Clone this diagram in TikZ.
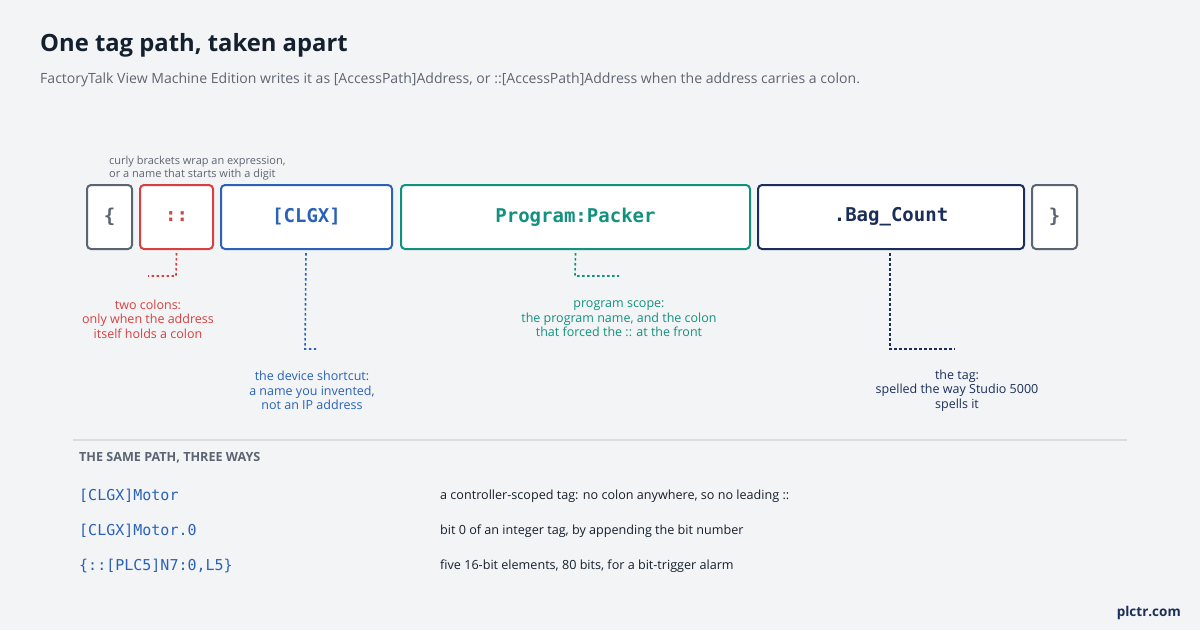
\documentclass[tikz,border=0pt]{standalone}
\usepackage{fontspec}
\setmainfont{Open Sans}
\newfontfamily\monofont{DejaVu Sans Mono}
\definecolor{bg}{HTML}{F3F4F6}
\definecolor{ink}{HTML}{14202E}
\definecolor{sub}{HTML}{5D6673}
\definecolor{gr}{HTML}{5A6472}
\definecolor{rd}{HTML}{D64040}
\definecolor{bl}{HTML}{2A62B8}
\definecolor{tl}{HTML}{13917E}
\definecolor{nv}{HTML}{1B2E5A}
\definecolor{sep}{HTML}{D8DDE3}
\tikzset{
  seg/.style={draw=#1, text=#1, fill=white, line width=2pt, rounded corners=4pt, inner sep=0pt, anchor=north west,
     font=\monofont\bfseries\fontsize{19}{22}\selectfont},
  lead/.style={draw=#1, line width=1.6pt, dash pattern=on 2.5pt off 2.5pt},
  note/.style={text=#1, align=center, font=\fontsize{12.5}{14.5}\selectfont},
  code/.style={text=bl, anchor=west, inner sep=0pt, font=\monofont\fontsize{15}{17}\selectfont},
  desc/.style={text=ink, anchor=west, inner sep=0pt, font=\fontsize{12.6}{14}\selectfont},
}
\begin{document}
\begin{tikzpicture}[x=1pt,y=-1pt]
\path[fill=bg] (0,0) rectangle (1200,630);
\useasboundingbox (0,0) rectangle (1200,630);
\node[anchor=west, inner sep=0pt, text=ink, font=\bfseries\fontsize{23.8}{28}\selectfont] (title) at (40,45) {One tag path, taken apart};
\node[anchor=west, inner sep=0pt, text=sub, font=\fontsize{14.05}{16}\selectfont] (subtitle) at (40,80) {FactoryTalk View Machine Edition writes it as [AccessPath]Address, or ::[AccessPath]Address when the address carries a colon.};
\node[anchor=west, inner sep=0pt, text=sub, align=left, font=\fontsize{11}{13}\selectfont] (curly) at (109,168.5) {curly brackets wrap an expression,\\or a name that starts with a digit};
% segments
\node[seg=gr, minimum width=45pt, minimum height=64pt] (lb) at (86,184) {\{};
\node[seg=rd, minimum width=73pt, minimum height=64pt] (cc) at (139,184) {::};
\node[seg=bl, minimum width=171pt, minimum height=64pt] (ap) at (220,184) {[CLGX]};
\node[seg=tl, minimum width=349pt, minimum height=64pt] (pg) at (400,184) {Program:Packer};
\node[seg=nv, minimum width=266pt, minimum height=64pt] (tg) at (757,184) {.Bag\_Count};
\node[seg=gr, minimum width=45pt, minimum height=64pt] (rb) at (1031,184) {\}};
% leaders
\coordinate (r1) at (176,276); \coordinate (r2) at (148,276);
\coordinate (b1) at (305,349); \coordinate (b2) at (316,349);
\coordinate (t1) at (575,276); \coordinate (t2) at (619,276);
\coordinate (n1) at (890,349); \coordinate (n2) at (955,349);
\draw[lead=rd] ([yshift=-3pt]cc.south) -- (r1) -- (r2);
\draw[lead=bl] ([xshift=-0.5pt,yshift=-3pt]ap.south) -- (b1) -- (b2);
\draw[lead=tl] ([yshift=-3pt]pg.south) -- (t1) -- (t2);
\draw[lead=nv] (tg.south -| n1) ++(0,3) -- (n1) -- (n2);
\node[note=rd] (rn) at (148,319) {two colons:\\only when the address\\itself holds a colon};
\node[note=bl] (bn) at (312,390.5) {the device shortcut:\\a name you invented,\\not an IP address};
\node[note=tl] (tn) at (619,319) {program scope:\\the program name, and the colon\\that forced the :: at the front};
\node[note=nv] (nn) at (957,390.5) {the tag:\\spelled the way Studio 5000\\spells it};
% separator
\coordinate (s1) at (73,440); \coordinate (s2) at (1127,440);
\draw[sep, line width=1.5pt] (s1) -- (s2);
\node[anchor=west, inner sep=0pt, text=gr, font=\bfseries\fontsize{12.6}{14}\selectfont] (hdr) at (79,458) {THE SAME PATH, THREE WAYS};
\node[code] (c1) at (79,496) {[CLGX]Motor};
\node[code] (c2) at (79,531) {[CLGX]Motor.0};
\node[code] (c3) at (79,566) {\{::[PLC5]N7:0,L5\}};
\node[desc] (d1) at (440,496) {a controller-scoped tag: no colon anywhere, so no leading ::};
\node[desc] (d2) at (440,531) {bit 0 of an integer tag, by appending the bit number};
\node[desc] (d3) at (440,566) {five 16-bit elements, 80 bits, for a bit-trigger alarm};
\node[anchor=east, inner sep=0pt, text=nv, font=\bfseries\fontsize{13.5}{16}\selectfont] (brand) at (1181,613) {plctr.com};
\end{tikzpicture}
\end{document}
